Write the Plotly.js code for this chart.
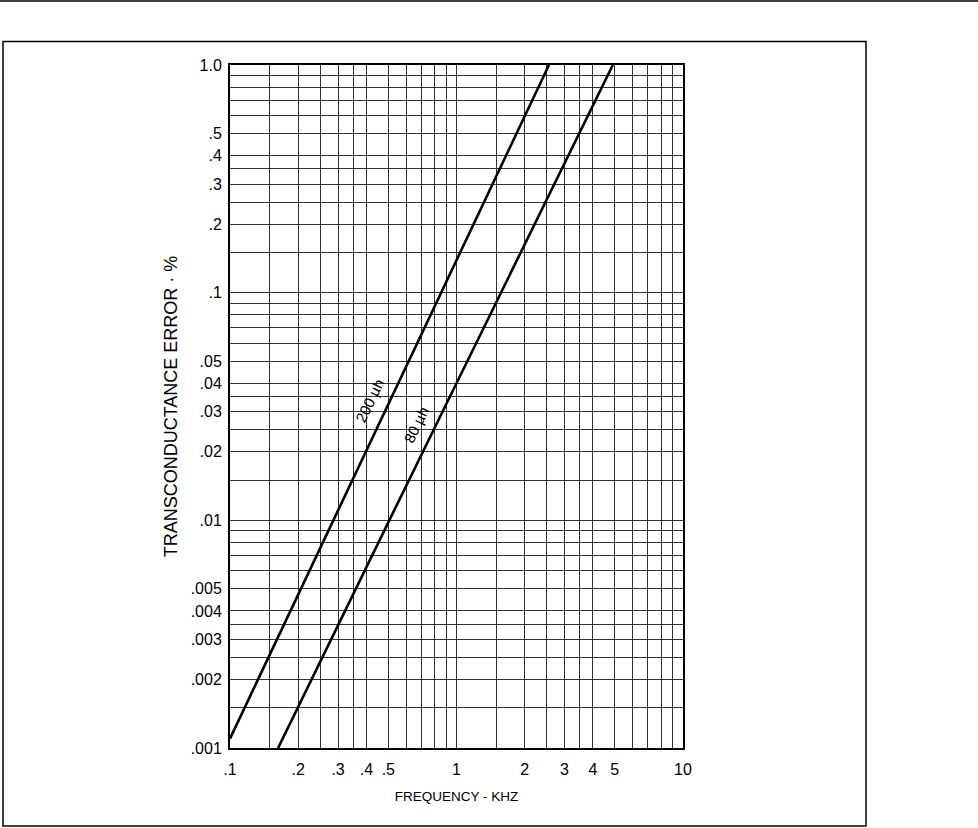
<!DOCTYPE html>
<html><head><meta charset="utf-8">
<script src="https://cdn.plot.ly/plotly-3.0.1.min.js"></script>
<style>html,body{margin:0;padding:0;background:#fff}</style>
</head><body><div id="chart" style="width:978px;height:828px"></div>
<script>
// Series (frequency in kHz, error in %)
const freq200 = [0.1, 0.2, 0.5, 1, 2, 2.56];
const err200  = [0.00110, 0.00471, 0.0323, 0.138, 0.593, 1.0];
const freq80  = [0.163, 0.2, 0.5, 1, 2, 4.9];
const err80   = [0.001, 0.00152, 0.0098, 0.040, 0.163, 1.0];
const seriesNames = ['200 µh', '80 µh'];

// Graph-paper rulings and tick labels
const xGridVals = [0.1,0.15,0.2,0.25,0.3,0.35,0.4,0.5,0.6,0.7,0.8,0.9,1,1.5,2,2.5,3,3.5,4,5,6,7,8,9,10];
const xGridText = ['.1','','.2','','.3','','.4','.5','','','','','1','','2','','3','','4','5','','','','','10'];
const yGridVals = [0.001,0.0015,0.002,0.0025,0.003,0.0035,0.004,0.005,0.006,0.007,0.008,0.009,
                   0.01,0.015,0.02,0.025,0.03,0.035,0.04,0.05,0.06,0.07,0.08,0.09,
                   0.1,0.15,0.2,0.25,0.3,0.35,0.4,0.5,0.6,0.7,0.8,0.9,1.0];
const yGridText = ['.001','','.002','','.003','','.004','.005','','','','',
                   '.01','','.02','','.03','','.04','.05','','','','',
                   '.1','','.2','','.3','','.4','.5','','','','','1.0'];

const font = {family: '"Liberation Sans", Arial, Helvetica, sans-serif', color: '#000'};
const f = s => Object.assign({size: s}, font);

const traces = [
  {x: freq200, y: err200, name: seriesNames[0], mode: 'lines', line: {color: '#000', width: 2.6}},
  {x: freq80,  y: err80,  name: seriesNames[1], mode: 'lines', line: {color: '#000', width: 2.6}}
];

const layout = {
  width: 978, height: 828,
  margin: {l: 230, r: 295, t: 65, b: 80, pad: 0},
  paper_bgcolor: '#fff', plot_bgcolor: '#fff',
  showlegend: false,
  font: f(15),
  xaxis: {
    type: 'log', range: [-1, 1],
    tickmode: 'array', tickvals: xGridVals, ticktext: xGridText,
    ticks: '', ticklabelstandoff: 6,
    showgrid: true, gridcolor: '#333', gridwidth: 1,
    showline: true, mirror: true, linecolor: '#000', linewidth: 2,
    zeroline: false, tickfont: f(16),
    title: {text: 'FREQUENCY - KHZ', font: f(13.5), standoff: 14}
  },
  yaxis: {
    type: 'log', range: [-3, 0],
    tickmode: 'array', tickvals: yGridVals, ticktext: yGridText,
    ticks: '', ticklabelstandoff: 3,
    showgrid: true, gridcolor: '#333', gridwidth: 1,
    showline: true, mirror: true, linecolor: '#000', linewidth: 2,
    zeroline: false, tickfont: f(16),
    title: {text: 'TRANSCONDUCTANCE ERROR · %', font: f(18), standoff: 8}
  },
  annotations: [
    {x: Math.log10(0.441), y: Math.log10(0.0335), xref: 'x', yref: 'y', text: seriesNames[0],
     showarrow: false, textangle: -64, xshift: -6, font: f(15)},
    {x: Math.log10(0.706), y: Math.log10(0.0264), xref: 'x', yref: 'y', text: seriesNames[1],
     showarrow: false, textangle: -64, xshift: -6, font: f(15)}
  ],
  shapes: [
    {type: 'rect', xref: 'paper', yref: 'paper', x0: (3-230)/453, x1: (866-230)/453,
     y0: (748-826)/683, y1: (748-41.5)/683, line: {color: '#000', width: 1.5}},
    {type: 'line', xref: 'paper', yref: 'paper', x0: -230/453, x1: (978-230)/453,
     y0: (748-1)/683, y1: (748-1)/683, line: {color: '#000', width: 1.5}}
  ]
};

Plotly.newPlot('chart', traces, layout, {displayModeBar: false, staticPlot: true});
</script>
</body></html>
